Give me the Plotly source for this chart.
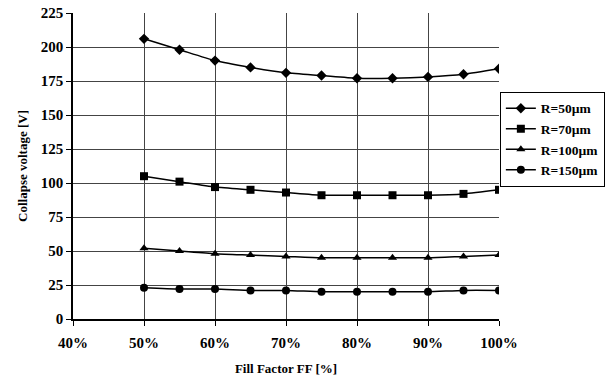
import plotly.graph_objects as go

fill_factor = [50, 55, 60, 65, 70, 75, 80, 85, 90, 95, 100]
r50 = [206, 198, 190, 185, 181, 179, 177, 177, 178, 180, 184]
r70 = [105, 101, 97, 95, 93, 91, 91, 91, 91, 92, 95]
r100 = [52, 50, 48, 47, 46, 45, 45, 45, 45, 46, 47]
r150 = [23, 22, 22, 21, 21, 20, 20, 20, 20, 21, 21]
x_ticks = [40, 50, 60, 70, 80, 90, 100]
x_ticklabels = ["40%", "50%", "60%", "70%", "80%", "90%", "100%"]
y_ticks = [0, 25, 50, 75, 100, 125, 150, 175, 200, 225]
names = ["R=50µm", "R=70µm", "R=100µm", "R=150µm"]
symbols = ["diamond", "square", "triangle-up", "circle"]
series = [r50, r70, r100, r150]

FONT = "Liberation Serif"

fig = go.Figure()
for name, ys, sym in zip(names, series, symbols):
    fig.add_trace(go.Scatter(
        x=fill_factor, y=ys, name="<b>" + name + "</b>", mode="lines+markers",
        line=dict(color="black", width=1.5, shape="spline", smoothing=0.6),
        marker=dict(symbol=sym, size=8, color="black"),
    ))

fig.update_layout(
    width=609, height=376,
    margin=dict(l=73, r=110, t=13, b=57, autoexpand=False),
    paper_bgcolor="white", plot_bgcolor="white",
    font=dict(family=FONT, color="black", size=14),
    showlegend=True,
    legend=dict(
        x=1.002, y=0.742, xanchor="left", yanchor="top",
        bordercolor="black", borderwidth=1,
        font=dict(family=FONT, size=13.5),
        tracegroupgap=0, itemwidth=30,
    ),
    xaxis=dict(
        range=[40, 100], tickvals=x_ticks,
        ticktext=["<b>" + t + "</b>" for t in x_ticklabels],
        showgrid=True, gridcolor="#444", gridwidth=1,
        showline=True, linecolor="black", linewidth=1.5,
        ticks="outside", ticklen=5, tickcolor="black",
        ticklabelstandoff=4,
        tickfont=dict(family=FONT, size=15),
        title=dict(text="<b>Fill Factor FF [%]</b>", font=dict(family=FONT, size=13), standoff=14),
        zeroline=False,
    ),
    yaxis=dict(
        range=[0, 225], tickvals=y_ticks,
        ticktext=["<b>%d</b>" % v for v in y_ticks],
        showgrid=True, gridcolor="#444", gridwidth=1,
        showline=True, linecolor="black", linewidth=1.5,
        ticks="outside", ticklen=5, tickcolor="black",
        tickfont=dict(family=FONT, size=15),
        title=dict(text="<b>Collapse voltage [V]</b>", font=dict(family=FONT, size=13), standoff=10),
        zeroline=False,
    ),
)

fig.write_html("out.html")
